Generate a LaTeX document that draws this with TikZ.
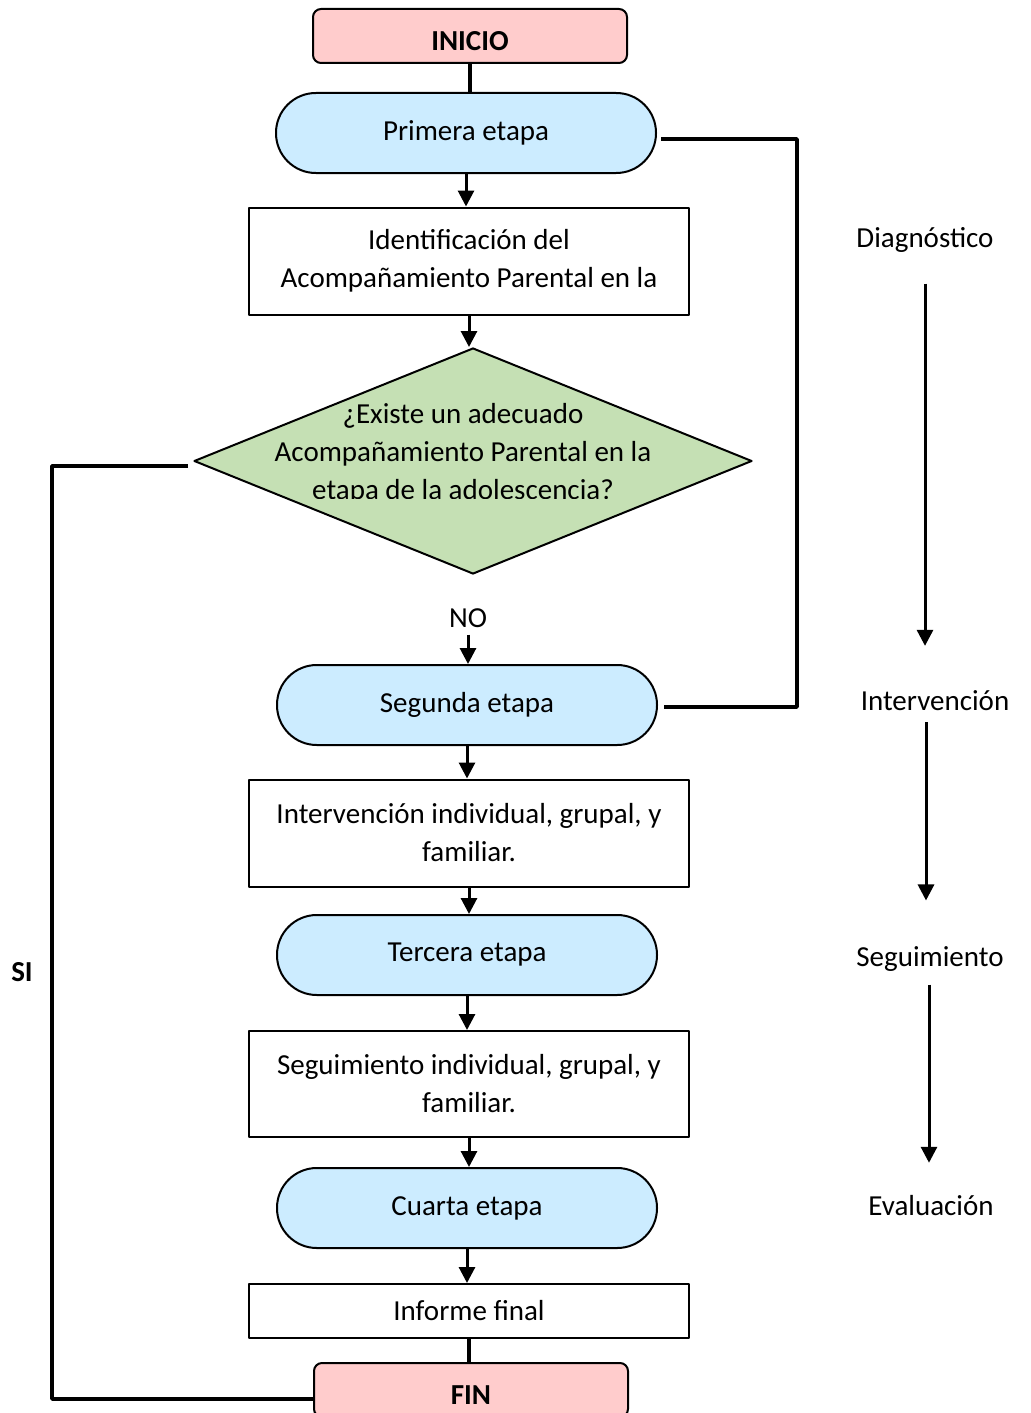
\documentclass[tikz,border=0pt]{standalone}
\usepackage{fontspec}
\setmainfont{Carlito}
\usepackage{xcolor}
\usetikzlibrary{arrows.meta,shapes.geometric}
\definecolor{termfill}{HTML}{FFCCCC}
\definecolor{stagefill}{HTML}{CCECFF}
\definecolor{decfill}{HTML}{C5E0B4}
\newcommand{\flowfont}{\fontsize{14.5}{19}\selectfont}
\tikzset{
  term/.style={draw=black, fill=termfill, line width=1pt, rounded corners=4pt,
    minimum width=157pt, minimum height=27pt, text height=16pt, text depth=1.5pt,
    font=\flowfont\bfseries},
  stage/.style={draw=black, fill=stagefill, line width=1pt, rounded corners=19.9pt,
    minimum width=190pt, minimum height=40pt},
  proc/.style={draw=black, fill=white, line width=1pt, minimum width=220pt, align=center},
  dec/.style={diamond, draw=black, fill=decfill, line width=1pt,
    minimum width=279pt, minimum height=113pt, inner sep=0pt},
  lab/.style={text=black},
  flow/.style={draw=black, line width=1.5pt, -{Triangle[width=8pt,length=8pt]}},
  link/.style={draw=black, line width=1.75pt}
}

\begin{document}
\begin{tikzpicture}[x=0.5pt, y=-0.5pt, line join=round, every node/.style={font=\flowfont}]
  \fill[white] (0,0) rectangle (1030,1413);
  \useasboundingbox (0,0) rectangle (1030,1413);
  % main column
  \node[term] (ini) at (470,36) {INICIO};
  \node[stage] (pri) at (466,133) {Primera etapa};
  \node[proc, minimum height=53.5pt] (ide) at (469,261) {Identificación del\\Acompañamiento Parental en la};
  \node[dec] (dia) at (473,461) {};
  \begin{scope}
    \clip (150,380) rectangle (800,498);
    \node[lab, align=center] (pre) at (463,454) {¿Existe un adecuado\\Acompañamiento Parental en la\\etapa de la adolescencia?};
  \end{scope}
  \node[lab] (no) at (468,618) {NO};
  \node[stage] (seg) at (467,705) {Segunda etapa};
  \node[proc, minimum height=53.5pt] (int) at (469,833) {Intervención individual, grupal, y\\familiar.};
  \node[stage] (ter) at (467,955) {Tercera etapa};
  \node[proc, minimum height=53pt] (sgm) at (469,1084) {Seguimiento individual, grupal, y\\familiar.};
  \node[stage] (cua) at (467,1208) {Cuarta etapa};
  \node[proc, minimum height=27pt] (inf) at (469,1311) {Informe final};
  \node[term] (fin) at (471,1390) {FIN};
  \node[lab, font=\flowfont\bfseries] (si) at (22,972) {SI};
  % phases
  \node[lab] (dg) at (925,240) {Diagnóstico};
  \node[lab] (iv) at (935,701) {Intervención};
  \node[lab] (sg) at (930,959) {Seguimiento};
  \node[lab] (ev) at (931,1206) {Evaluación};

  \draw[link] (ini.south) -- (ini.south |- pri.north);
  \draw[flow] (pri.south) -- (pri.south |- ide.north);
  \draw[flow] (ide.south) -- (ide.south |- dia.north);
  \draw[flow] (no.south) -- (no.south |- seg.north);
  \draw[flow] (seg.south) -- (seg.south |- int.north);
  \draw[flow] (int.south) -- (int.south |- ter.north);
  \draw[flow] (ter.south) -- (ter.south |- sgm.north);
  \draw[flow] (sgm.south) -- (sgm.south |- cua.north);
  \draw[flow] (cua.south) -- (cua.south |- inf.north);
  \draw[link] (inf.south) -- (inf.south |- fin.north);
  \draw[link] ([xshift=-2.5pt,yshift=-2.5pt]dia.west) -- ++(-136,0) |- ([yshift=-4.5pt]fin.west);
  \draw[link] ([xshift=2pt,yshift=-3pt]pri.east) -- ++(136,0) |- ([xshift=3pt,yshift=-1pt]seg.east);

  \draw[flow, shorten <=12pt, shorten >=19pt] (dg.south) -- (dg.south |- iv.north);
  \draw[flow, shorten <=2pt, shorten >=19.5pt] ([xshift=-4.5pt]iv.south) -- ([xshift=-4.5pt]iv.south |- sg.north);
  \draw[flow, shorten <=3pt, shorten >=13pt] ([xshift=-0.5pt]sg.south) -- ([xshift=-0.5pt]sg.south |- ev.north);
\end{tikzpicture}
\end{document}
